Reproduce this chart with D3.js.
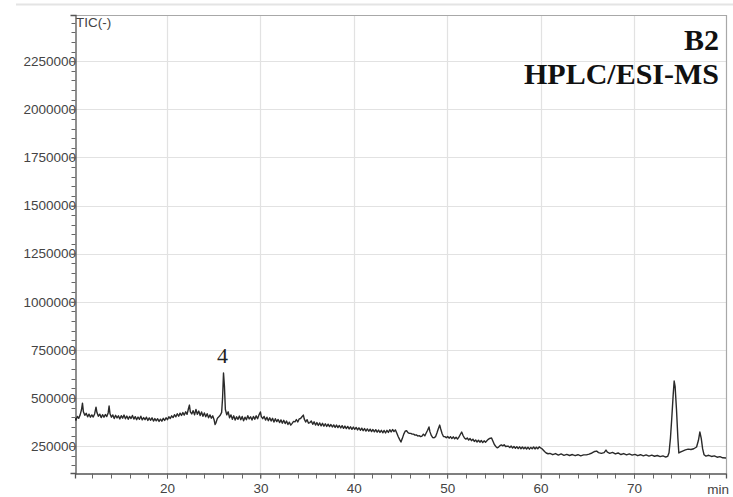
<!DOCTYPE html>
<html>
<head>
<meta charset="utf-8">
<script src="https://cdn.jsdelivr.net/npm/d3@7"></script>
<style>
  html, body { margin: 0; padding: 0; background: #fff; }
  svg { display: block; }
</style>
</head>
<body>
<svg id="chart" width="733" height="497"></svg>
<script>
// Total ion current trace: retention time (min) and intensity in thousands of counts
const retentionTime = [
  10.15,10.25,10.40,10.55,10.70,10.85,10.95,11.05,11.20,11.35,11.50,11.65,11.80,11.95,12.10,12.25,12.40,12.50,12.65,12.80,
  12.95,13.10,13.25,13.40,13.55,13.70,13.80,13.90,14.05,14.20,14.35,14.50,14.65,14.80,14.95,15.10,15.25,15.40,15.55,15.70,
  15.85,16.00,16.15,16.30,16.45,16.60,16.75,16.90,17.05,17.20,17.35,17.50,17.65,17.80,17.95,18.10,18.25,18.40,18.55,18.70,
  18.85,19.00,19.15,19.30,19.45,19.60,19.75,19.90,20.05,20.20,20.35,20.50,20.65,20.80,20.95,21.10,21.25,21.40,21.55,21.70,
  21.85,22.00,22.15,22.30,22.40,22.50,22.65,22.80,22.95,23.10,23.25,23.40,23.55,23.70,23.85,24.00,24.15,24.30,24.45,24.60,
  24.75,24.90,25.05,25.15,25.25,25.40,25.55,25.70,25.85,25.95,26.05,26.15,26.25,26.40,26.55,26.70,26.85,27.00,27.15,27.30,
  27.45,27.60,27.75,27.90,28.05,28.20,28.35,28.50,28.65,28.80,28.95,29.10,29.25,29.40,29.55,29.70,29.85,30.00,30.10,30.25,
  30.40,30.55,30.70,30.85,31.00,31.15,31.30,31.45,31.60,31.75,31.90,32.05,32.20,32.35,32.50,32.65,32.80,32.95,33.10,33.25,
  33.40,33.55,33.70,33.85,34.00,34.15,34.30,34.45,34.60,34.70,34.85,35.00,35.15,35.30,35.45,35.60,35.75,35.90,36.05,36.20,
  36.35,36.50,36.65,36.80,36.95,37.10,37.25,37.40,37.55,37.70,37.85,38.00,38.15,38.30,38.45,38.60,38.75,38.90,39.05,39.20,
  39.35,39.50,39.65,39.80,39.95,40.10,40.25,40.40,40.55,40.70,40.85,41.00,41.15,41.30,41.45,41.60,41.75,41.90,42.05,42.20,
  42.35,42.50,42.65,42.80,42.95,43.10,43.25,43.40,43.55,43.70,43.85,44.00,44.15,44.30,44.45,44.60,44.75,44.90,45.05,45.20,
  45.35,45.50,45.65,45.80,45.95,46.10,46.25,46.40,46.55,46.70,46.85,47.00,47.15,47.30,47.45,47.60,47.75,47.90,48.05,48.15,
  48.30,48.45,48.60,48.75,48.90,49.05,49.20,49.30,49.45,49.60,49.75,49.90,50.05,50.20,50.35,50.50,50.65,50.80,50.95,51.10,
  51.25,51.40,51.55,51.70,51.85,52.00,52.15,52.30,52.45,52.60,52.75,52.90,53.05,53.20,53.35,53.50,53.65,53.80,53.95,54.10,
  54.25,54.40,54.55,54.75,54.90,55.05,55.20,55.35,55.50,55.65,55.80,55.95,56.10,56.25,56.40,56.55,56.70,56.85,57.00,57.15,
  57.30,57.45,57.60,57.75,57.90,58.05,58.20,58.35,58.50,58.65,58.80,58.95,59.10,59.25,59.40,59.55,59.70,59.85,60.00,60.15,
  60.30,60.45,60.60,60.80,61.00,61.30,61.60,61.90,62.20,62.50,62.80,63.10,63.40,63.70,64.00,64.30,64.60,64.90,65.20,65.50,
  65.80,66.00,66.20,66.50,66.80,67.00,67.15,67.40,67.70,68.00,68.30,68.60,68.90,69.20,69.50,69.80,70.10,70.40,70.70,71.00,
  71.30,71.60,71.90,72.20,72.50,72.80,73.10,73.40,73.60,73.75,73.90,74.05,74.20,74.30,74.40,74.55,74.70,74.80,74.95,75.20,
  75.50,75.80,76.10,76.40,76.70,76.90,77.05,77.20,77.35,77.50,77.70,78.00,78.30,78.60,78.90,79.20,79.50,79.85
];
const ticKilo = [
  395,384,404,394,412,440,473,428,410,420,402,416,400,412,401,417,452,424,405,416,
  398,413,400,414,403,422,458,418,400,412,393,410,396,407,391,408,395,411,392,406,
  389,404,393,409,390,403,387,401,389,405,386,398,387,400,383,396,384,397,380,393,
  381,392,378,390,379,394,383,397,387,402,393,407,398,413,402,418,405,421,409,424,
  411,428,415,445,463,428,417,434,412,440,415,432,409,427,405,422,402,418,397,412,
  395,407,385,362,372,395,402,410,425,500,630,560,440,412,428,397,412,389,407,385,
  402,389,406,387,404,382,400,387,408,391,402,385,404,389,407,392,412,427,403,392,
  404,385,400,382,397,380,394,375,392,377,388,372,386,369,384,367,380,362,374,359,
  368,378,376,388,375,391,393,402,411,390,375,387,369,372,380,363,376,359,372,357,
  370,355,368,353,366,352,364,351,362,349,360,347,359,346,357,344,356,342,354,341,
  352,339,350,337,349,337,347,334,345,332,343,330,341,328,339,327,338,325,336,324,
  335,322,333,321,332,319,331,318,332,321,335,323,336,325,334,318,300,285,271,290,
  312,327,330,320,316,316,312,312,307,308,302,304,299,302,312,303,318,332,349,325,
  305,294,293,299,318,340,359,340,315,300,299,293,300,291,299,289,298,288,296,286,
  296,310,323,305,292,286,292,281,289,278,286,274,282,271,280,270,279,268,277,270,
  278,285,290,292,275,258,248,241,245,252,256,251,257,248,249,249,242,250,240,248,
  238,247,237,246,236,245,236,244,235,244,234,243,236,245,235,244,236,246,240,236,
  228,220,214,210,212,205,211,203,209,202,207,201,206,200,205,199,204,204,208,214,
  222,224,216,212,216,229,218,212,217,209,214,206,211,204,209,203,207,200,205,199,
  204,198,203,197,201,195,199,193,196,215,290,400,520,588,560,440,290,214,218,224,
  230,234,232,236,245,280,323,290,235,205,198,202,196,199,192,195,189,188
];
const KILO = 1000;

// Axis ticks and labels
const yMajorTicks = [250000, 500000, 750000, 1000000, 1250000, 1500000, 1750000, 2000000, 2250000];
const yMinorTicks = [150000, 200000, 250000, 300000, 350000, 400000, 450000, 500000, 550000, 600000,
                     650000, 700000, 750000, 800000, 850000, 900000, 950000, 1000000, 1050000, 1100000,
                     1150000, 1200000, 1250000, 1300000, 1350000, 1400000, 1450000, 1500000, 1550000, 1600000,
                     1650000, 1700000, 1750000, 1800000, 1850000, 1900000, 1950000, 2000000, 2050000, 2100000,
                     2150000, 2200000, 2250000, 2300000, 2350000, 2400000, 2450000];
const xMajorTicks = [20, 30, 40, 50, 60, 70];
const xMinorTicks = [12, 14, 16, 18, 20, 22, 24, 26, 28, 30, 32, 34, 36, 38, 40, 42, 44, 46, 48, 50,
                     52, 54, 56, 58, 60, 62, 64, 66, 68, 70, 72, 74, 76, 78];
const xDomain = [10.15, 79.85];
const yDomain = [110000, 2490000];

// Annotations
const peakLabels = [{ time: 26.05, text: "4" }];
const titleLines = ["B2", "HPLC/ESI-MS"];

const svg = d3.select("#chart");
const box = { left: 75, right: 726, top: 15, bottom: 473 };
const sans = "'Liberation Sans', Arial, sans-serif";
const serif = "'Liberation Serif', 'Times New Roman', serif";

const x = d3.scaleLinear().domain(xDomain).range([box.left, box.right]);
const y = d3.scaleLinear().domain(yDomain).range([box.bottom, box.top]);

// Thin separator above the plot
svg.append("line")
  .attr("x1", 16).attr("x2", 733).attr("y1", 4.5).attr("y2", 4.5)
  .attr("stroke", "#e4e4e4").attr("stroke-width", 2);

// Grid lines
const grid = svg.append("g");
grid.selectAll("line.gy").data(yMajorTicks).join("line")
  .attr("x1", box.left).attr("x2", box.right)
  .attr("y1", d => Math.round(y(d)) + 0.5).attr("y2", d => Math.round(y(d)) + 0.5)
  .attr("stroke", "#e2e2e2").attr("stroke-width", 1.2);
grid.selectAll("line.gx").data(xMajorTicks).join("line")
  .attr("y1", box.top).attr("y2", box.bottom)
  .attr("x1", d => Math.round(x(d)) + 0.5).attr("x2", d => Math.round(x(d)) + 0.5)
  .attr("stroke", "#e2e2e2").attr("stroke-width", 1.2);

// Frame: top and right edges
svg.append("path")
  .attr("d", `M${box.left},${box.top + 0.5}H${box.right + 0.5}V${box.bottom}`)
  .attr("fill", "none").attr("stroke", "#a8a8a8").attr("stroke-width", 1.2);

// Y axis
const yAxis = d3.axisLeft(y).tickValues(yMajorTicks).tickSize(5).tickPadding(0)
  .tickFormat(d => String(d));
const gy = svg.append("g").attr("transform", `translate(${box.left + 0.5},0)`).call(yAxis);
gy.attr("font-size", null).attr("font-family", null);
gy.select(".domain").attr("stroke", "#555").attr("stroke-width", 1.3);
gy.selectAll(".tick line").attr("stroke", "#666");
gy.selectAll(".tick text")
  .style("font-family", sans).style("font-size", "13.5px")
  .attr("fill", "#444").attr("x", 0.5);
gy.append("g").selectAll("line").data(yMinorTicks).join("line")
  .attr("x1", -4).attr("x2", 0)
  .attr("y1", d => Math.round(y(d)) + 0.5).attr("y2", d => Math.round(y(d)) + 0.5)
  .attr("stroke", "#666");

// X axis
const xAxis = d3.axisBottom(x).tickValues(xMajorTicks).tickSize(5).tickPadding(5)
  .tickFormat(d => String(d));
const gx = svg.append("g").attr("transform", `translate(0,${box.bottom + 0.5})`).call(xAxis);
gx.attr("font-size", null).attr("font-family", null);
gx.select(".domain").attr("stroke", "#555").attr("stroke-width", 1.3);
gx.selectAll(".tick line").attr("stroke", "#666");
gx.selectAll(".tick text")
  .style("font-family", sans).style("font-size", "13.5px").attr("fill", "#444");
gx.append("g").selectAll("line").data(xMinorTicks).join("line")
  .attr("x1", d => Math.round(x(d)) + 0.5).attr("x2", d => Math.round(x(d)) + 0.5)
  .attr("y1", 0).attr("y2", 5)
  .attr("stroke", "#666");

svg.append("text")
  .attr("x", 729).attr("y", 494).attr("text-anchor", "end")
  .style("font-family", sans).style("font-size", "13.5px").attr("fill", "#444")
  .text("min");

svg.append("text")
  .attr("x", box.left + 1).attr("y", 27)
  .style("font-family", sans).style("font-size", "13.5px").attr("fill", "#444")
  .text("TIC(-)");

// Chromatogram trace
const points = retentionTime.map((t, i) => [t, ticKilo[i] * KILO]);
svg.append("defs").append("clipPath").attr("id", "plotClip")
  .append("rect").attr("x", box.left).attr("y", box.top)
  .attr("width", box.right - box.left).attr("height", box.bottom - box.top);
svg.append("path")
  .datum(points)
  .attr("clip-path", "url(#plotClip)")
  .attr("fill", "none")
  .attr("stroke", "#2a2a2a")
  .attr("stroke-width", 1.4)
  .attr("stroke-linejoin", "round")
  .attr("d", d3.line().x(d => x(d[0])).y(d => y(d[1])));

// Peak numbers
peakLabels.forEach(p => {
  const i = retentionTime.indexOf(p.time);
  svg.append("text")
    .attr("x", x(p.time) - 1).attr("y", y(ticKilo[i] * KILO) - 10)
    .attr("text-anchor", "middle")
    .style("font-family", serif).style("font-size", "22px").attr("fill", "#222")
    .text(p.text);
});

// Sample and method title
svg.append("g").selectAll("text").data(titleLines).join("text")
  .attr("x", 719).attr("y", (d, i) => 50 + i * 34)
  .attr("text-anchor", "end")
  .style("font-family", serif).style("font-weight", "bold").style("font-size", "30px")
  .attr("fill", "#111")
  .text(d => d);
</script>
</body>
</html>
